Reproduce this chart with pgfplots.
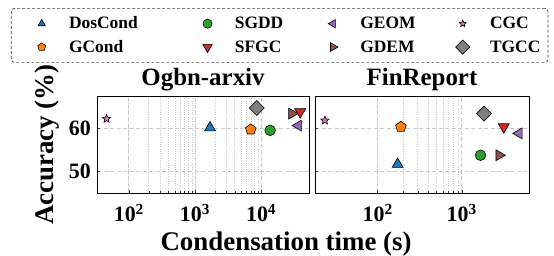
\documentclass[border=0pt]{standalone}
\usepackage{fontspec}
\setmainfont{Liberation Serif}
\usepackage{pgfplots}
\pgfplotsset{compat=1.18}
\usetikzlibrary{plotmarks}

\definecolor{tblue}{HTML}{1F77B4}
\definecolor{torange}{HTML}{FF7F0E}
\definecolor{tgreen}{HTML}{2CA02C}
\definecolor{tred}{HTML}{D62728}
\definecolor{tpurple}{HTML}{9467BD}
\definecolor{tbrown}{HTML}{8C564B}
\definecolor{tpink}{HTML}{E377C2}
\definecolor{tgray}{HTML}{7F7F7F}
\definecolor{gridc}{HTML}{C8C8C8}

\pgfdeclareplotmark{fstar}{%
  \pgfpathmoveto{\pgfpointpolar{90}{\pgfplotmarksize}}%
  \pgfpathlineto{\pgfpointpolar{126}{0.45\pgfplotmarksize}}%
  \pgfpathlineto{\pgfpointpolar{162}{\pgfplotmarksize}}%
  \pgfpathlineto{\pgfpointpolar{198}{0.45\pgfplotmarksize}}%
  \pgfpathlineto{\pgfpointpolar{234}{\pgfplotmarksize}}%
  \pgfpathlineto{\pgfpointpolar{270}{0.45\pgfplotmarksize}}%
  \pgfpathlineto{\pgfpointpolar{306}{\pgfplotmarksize}}%
  \pgfpathlineto{\pgfpointpolar{342}{0.45\pgfplotmarksize}}%
  \pgfpathlineto{\pgfpointpolar{18}{\pgfplotmarksize}}%
  \pgfpathlineto{\pgfpointpolar{54}{0.45\pgfplotmarksize}}%
  \pgfpathclose
  \pgfusepathqfillstroke
}

\pgfplotsset{
  sDos/.style={only marks, mark=triangle*, mark size=6.3bp, mark options={draw=black, line width=0.6pt, solid, fill=tblue}},
  sGCond/.style={only marks, mark=pentagon*, mark size=5.6bp, mark options={draw=black, line width=0.6pt, solid, fill=torange}},
  sSGDD/.style={only marks, mark=*, mark size=5.3bp, mark options={draw=black, line width=0.6pt, solid, fill=tgreen}},
  sSFGC/.style={only marks, mark=triangle*, mark size=6.3bp, mark options={draw=black, line width=0.6pt, solid, fill=tred, rotate=180}},
  sGEOM/.style={only marks, mark=triangle*, mark size=6.3bp, mark options={draw=black, line width=0.6pt, solid, fill=tpurple, rotate=90}},
  sGDEM/.style={only marks, mark=triangle*, mark size=6.3bp, mark options={draw=black, line width=0.6pt, solid, fill=tbrown, rotate=-90}},
  sCGC/.style={only marks, mark=fstar, mark size=4.3bp, mark options={draw=black, line width=0.6pt, solid, fill=tpink}},
  sTGCC/.style={only marks, mark=square*, mark size=5.3bp, mark options={draw=black, line width=0.6pt, solid, fill=tgray, rotate=45}},
}

\begin{document}
\begin{tikzpicture}
\useasboundingbox (0,0) rectangle (554bp,-256bp);

\begin{axis}[
  scale only axis, height=97bp, width=212bp,
  at={(97bp,-96bp)}, anchor=north west,
  xmode=log, ymin=45, ymax=67.6, xmin=33, xmax=53000,
  ytick={50,60}, yticklabels={50,60},
  xtick={100,1000,10000},
  xticklabels={10\textsuperscript{2},10\textsuperscript{3},10\textsuperscript{4}},
  grid=both,
  major grid style={gridc, line width=0.8pt, dash pattern=on 4bp off 2.5bp},
  minor grid style={gridc, line width=0.7pt, dash pattern=on 0.7pt off 1.6pt},
  axis line style={black, line width=0.8pt},
  tick pos=left, tick align=inside,
  major tick length=3bp, minor tick length=2bp,
  tick style={black!80, line width=0.5pt},
  tick label style={font=\fontsize{22}{22}\selectfont\bfseries},
  xticklabel style={anchor=base, yshift=-28.7bp},
  yticklabel style={xshift=-2.7bp},
  title style={at={(0.5,1)}, anchor=base, yshift=5bp, font=\fontsize{25}{25}\selectfont\bfseries},
  title={Ogbn-arxiv},
  ylabel={Accuracy (\%)},
  ylabel style={at={(axis description cs:-0.236,0.5)}, anchor=center, font=\fontsize{27}{27}\selectfont\bfseries},
  xlabel={Condensation time (s)},
  xlabel style={at={(axis description cs:0.892,-0.59)}, anchor=base, font=\fontsize{27}{27}\selectfont\bfseries},
  legend columns=4,
  legend cell align=left,
  legend image code/.code={%
      \path[draw=none, fill=none] (0bp,-1bp) rectangle (31.4bp,1bp);
      \path[mark repeat=2, mark phase=2, #1, /tikz/only marks] plot coordinates {(0bp,0bp) (23.4bp,0bp) (31.4bp,0bp)};},
  legend style={at={(-0.4057,1.9072)}, anchor=north west,
    draw=black!75, dash pattern=on 3bp off 2bp, rounded corners=3bp, line width=0.7pt, fill=white,
    font=\fontsize{17.5}{17.5}\selectfont\bfseries,
    nodes={inner sep=0pt, text height=13bp, text depth=3bp},
    inner xsep=7bp, inner ysep=7.3bp, row sep=7.4bp,
    /tikz/every odd column/.append style={column sep=19.3bp},
    /tikz/every even column/.append style={column sep=0bp}},
]
\addlegendimage{sDos, mark size=4.2bp}
\addlegendentry{\makebox[115.1bp][l]{DosCond}}
\addlegendimage{sSGDD, mark size=4.6bp}
\addlegendentry{\makebox[74.8bp][l]{SGDD}}
\addlegendimage{sGEOM, mark size=4.8bp}
\addlegendentry{\makebox[79bp][l]{GEOM}}
\addlegendimage{sCGC, mark size=3.6bp}
\addlegendentry{\makebox[51bp][l]{CGC}}
\addlegendimage{sGCond, mark size=4.2bp}
\addlegendentry{\makebox[115.1bp][l]{GCond}}
\addlegendimage{sSFGC, mark size=5.5bp}
\addlegendentry{\makebox[74.8bp][l]{SFGC}}
\addlegendimage{sGDEM, mark size=5bp}
\addlegendentry{\makebox[79bp][l]{GDEM}}
\addlegendimage{sTGCC, mark size=5bp}
\addlegendentry{\makebox[51bp][l]{TGCC}}

\addplot[sDos, forget plot] coordinates {(1690,60.2)};
\addplot[sGCond, forget plot] coordinates {(6980,59.8)};
\addplot[sSGDD, forget plot] coordinates {(13700,59.6)};
\addplot[sGDEM, forget plot] coordinates {(29200,63.5)};
\addplot[sSFGC, forget plot] coordinates {(39000,63.9)};
\addplot[sGEOM, forget plot] coordinates {(36500,60.7)};
\addplot[sCGC, forget plot] coordinates {(46,62.3)};
\addplot[sTGCC, forget plot] coordinates {(8600,64.8)};
\end{axis}

\begin{axis}[
  scale only axis, height=97bp, width=214bp,
  at={(315bp,-96bp)}, anchor=north west,
  xmode=log, ymin=45, ymax=67.6, xmin=18, xmax=6300,
  ytick={50,60}, yticklabels={},
  xtick={100,1000},
  xticklabels={10\textsuperscript{2},10\textsuperscript{3}},
  grid=both,
  major grid style={gridc, line width=0.8pt, dash pattern=on 4bp off 2.5bp},
  minor grid style={gridc, line width=0.7pt, dash pattern=on 0.7pt off 1.6pt},
  axis line style={black, line width=0.8pt},
  tick pos=left, tick align=inside,
  major tick length=3bp, minor tick length=2bp,
  tick style={black!80, line width=0.5pt},
  tick label style={font=\fontsize{22}{22}\selectfont\bfseries},
  xticklabel style={anchor=base, yshift=-28.7bp},
  title style={at={(0.5,1)}, anchor=base, yshift=5bp, font=\fontsize{25}{25}\selectfont\bfseries},
  title={FinReport},
]
\addplot[sDos] coordinates {(173,51.7)};
\addplot[sGCond] coordinates {(189,60.4)};
\addplot[sSGDD] coordinates {(1670,53.8)};
\addplot[sSFGC] coordinates {(3160,60.4)};
\addplot[sGEOM] coordinates {(4790,58.9)};
\addplot[sGDEM] coordinates {(2780,53.8)};
\addplot[sCGC] coordinates {(23.6,61.9)};
\addplot[sTGCC] coordinates {(1840,63.5)};
\end{axis}
\end{tikzpicture}
\end{document}
